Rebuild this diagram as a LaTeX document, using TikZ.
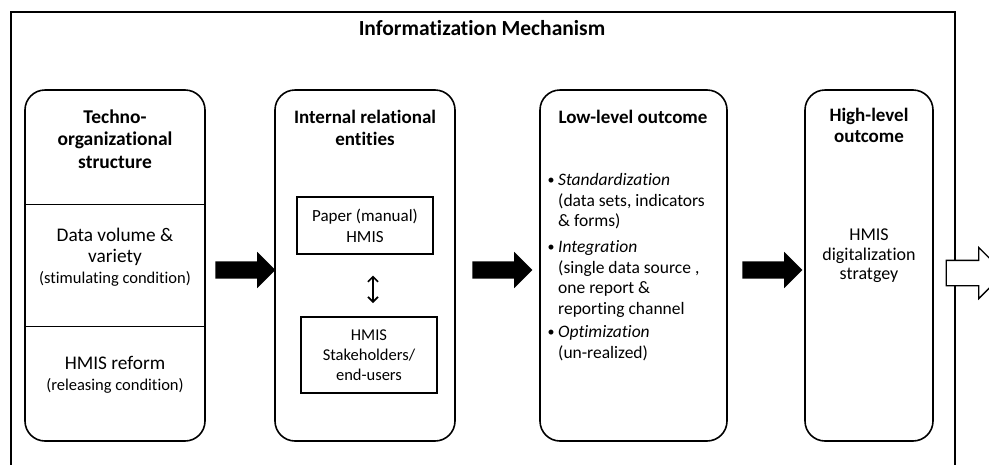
\documentclass[tikz,border=0pt]{standalone}
\usepackage{fontspec}
\setmainfont{Carlito}[Ligatures=NoCommon]
\usetikzlibrary{shapes.arrows,arrows.meta}
\begin{document}
\begin{tikzpicture}[x=1pt,y=-1pt,
  txt/.style={inner sep=0pt,align=center,font=\fontsize{16.5}{20.5}\selectfont},
  hd/.style={inner sep=0pt,align=center,font=\bfseries\fontsize{19}{22}\selectfont},
  stage/.style={draw,line width=1.6pt,rounded corners=20pt,minimum height=351pt,inner sep=0pt},
  entity/.style={draw,line width=1.3pt,minimum width=136pt,inner sep=0pt},
  flow/.style={single arrow,fill=black,minimum height=60pt,inner xsep=0pt,inner ysep=8.5pt,
    single arrow head extend=9.5pt},
  exit/.style={single arrow,draw,line width=1.3pt,fill=white,minimum height=58pt,
    inner xsep=0pt,inner ysep=12pt,single arrow head extend=13pt},
  dot/.style={inner sep=0pt,font=\fontsize{14}{14}\selectfont},
  item/.style={txt,anchor=north west,align=left,font=\fontsize{17.5}{20.5}\selectfont}]
\useasboundingbox (0,0) rectangle (989,464);
% outer frame, open at the bottom
\draw[line width=1.6pt] (11,470) -- (11,12) -- (955,12) -- (955,470);
\node[hd,font=\bfseries\fontsize{21.5}{24}\selectfont] (title) at (482,28) {Informatization Mechanism};

% stage boxes
\node[stage,minimum width=180pt] (s1) at (115,265.5) {};
\node[stage,minimum width=180pt] (s2) at (365,265.5) {};
\node[stage,minimum width=187pt] (s3) at (633.5,265.5) {};
\node[stage,minimum width=128pt] (s4) at (869,265.5) {};

% techno-organizational structure
\draw[line width=0.8pt] (s1.west |- 0,204) -- (s1.east |- 0,204);
\draw[line width=0.8pt] (s1.west |- 0,326) -- (s1.east |- 0,326);
\node[hd,font=\bfseries\fontsize{19.5}{22.5}\selectfont] (s1t) at (115,139) {Techno-\\organizational\\structure};
\node[txt,font=\fontsize{19.3}{21}\selectfont] (s1a) at (115,257)
  {Data volume \&\\variety\\{\fontsize{16.5}{20}\selectfont(stimulating condition)}};
\node[txt,font=\fontsize{19.3}{21}\selectfont] (s1b) at (115,375)
  {HMIS reform\\{\fontsize{16.5}{20}\selectfont(releasing condition)}};

% internal relational entities
\node[hd] (s2t) at (365,127.5) {Internal relational\\entities};
\node[entity,minimum height=57pt] (e1) at (365,225.5) {};
\node[txt,font=\fontsize{17}{21}\selectfont] (e1t) at (e1) {Paper (manual)\\HMIS};
\node[entity,minimum height=76pt] (e2) at (369,355) {};
\node[txt,font=\fontsize{16.5}{20}\selectfont] (e2t) at (e2) {HMIS\\Stakeholders/\\end-users};
\draw[line width=1.6pt,{Straight Barb[length=5pt,width=10pt]}-{Straight Barb[length=5pt,width=10pt]}]
  (e1.south -| 373,0) ++(0,21) coordinate (d1) -- (373,303) coordinate (d2);

% low-level outcome
\node[hd] (s3t) at (633,117) {Low-level outcome};
\node[dot] (b1) at (551,181) {\textbullet};
\node[item] (i1) at (558,173.5) {\textit{Standardization}\\(data sets, indicators\\\& forms)};
\node[dot] (b2) at (551,248) {\textbullet};
\node[item] (i2) at (558,240.5) {\textit{Integration}\\(single data source ,\\one report \&\\reporting channel};
\node[dot] (b3) at (551,333) {\textbullet};
\node[item] (i3) at (558,325.5) {\textit{Optimization}\\(un-realized)};

% high-level outcome
\node[hd,font=\bfseries\fontsize{19}{21}\selectfont] (s4t) at (869,125) {High-level\\outcome};
\node[txt,font=\fontsize{18}{19.5}\selectfont] (s4a) at (869,256) {HMIS\\digitalization\\stratgey};

% block arrows between stages
\node[flow] (f1) at (241,270) {};
\node[flow] (f2) at (498,270) {};
\node[flow] (f3) at (768,270) {};
\node[exit] (f4) at (969,273) {};
\end{tikzpicture}
\end{document}
